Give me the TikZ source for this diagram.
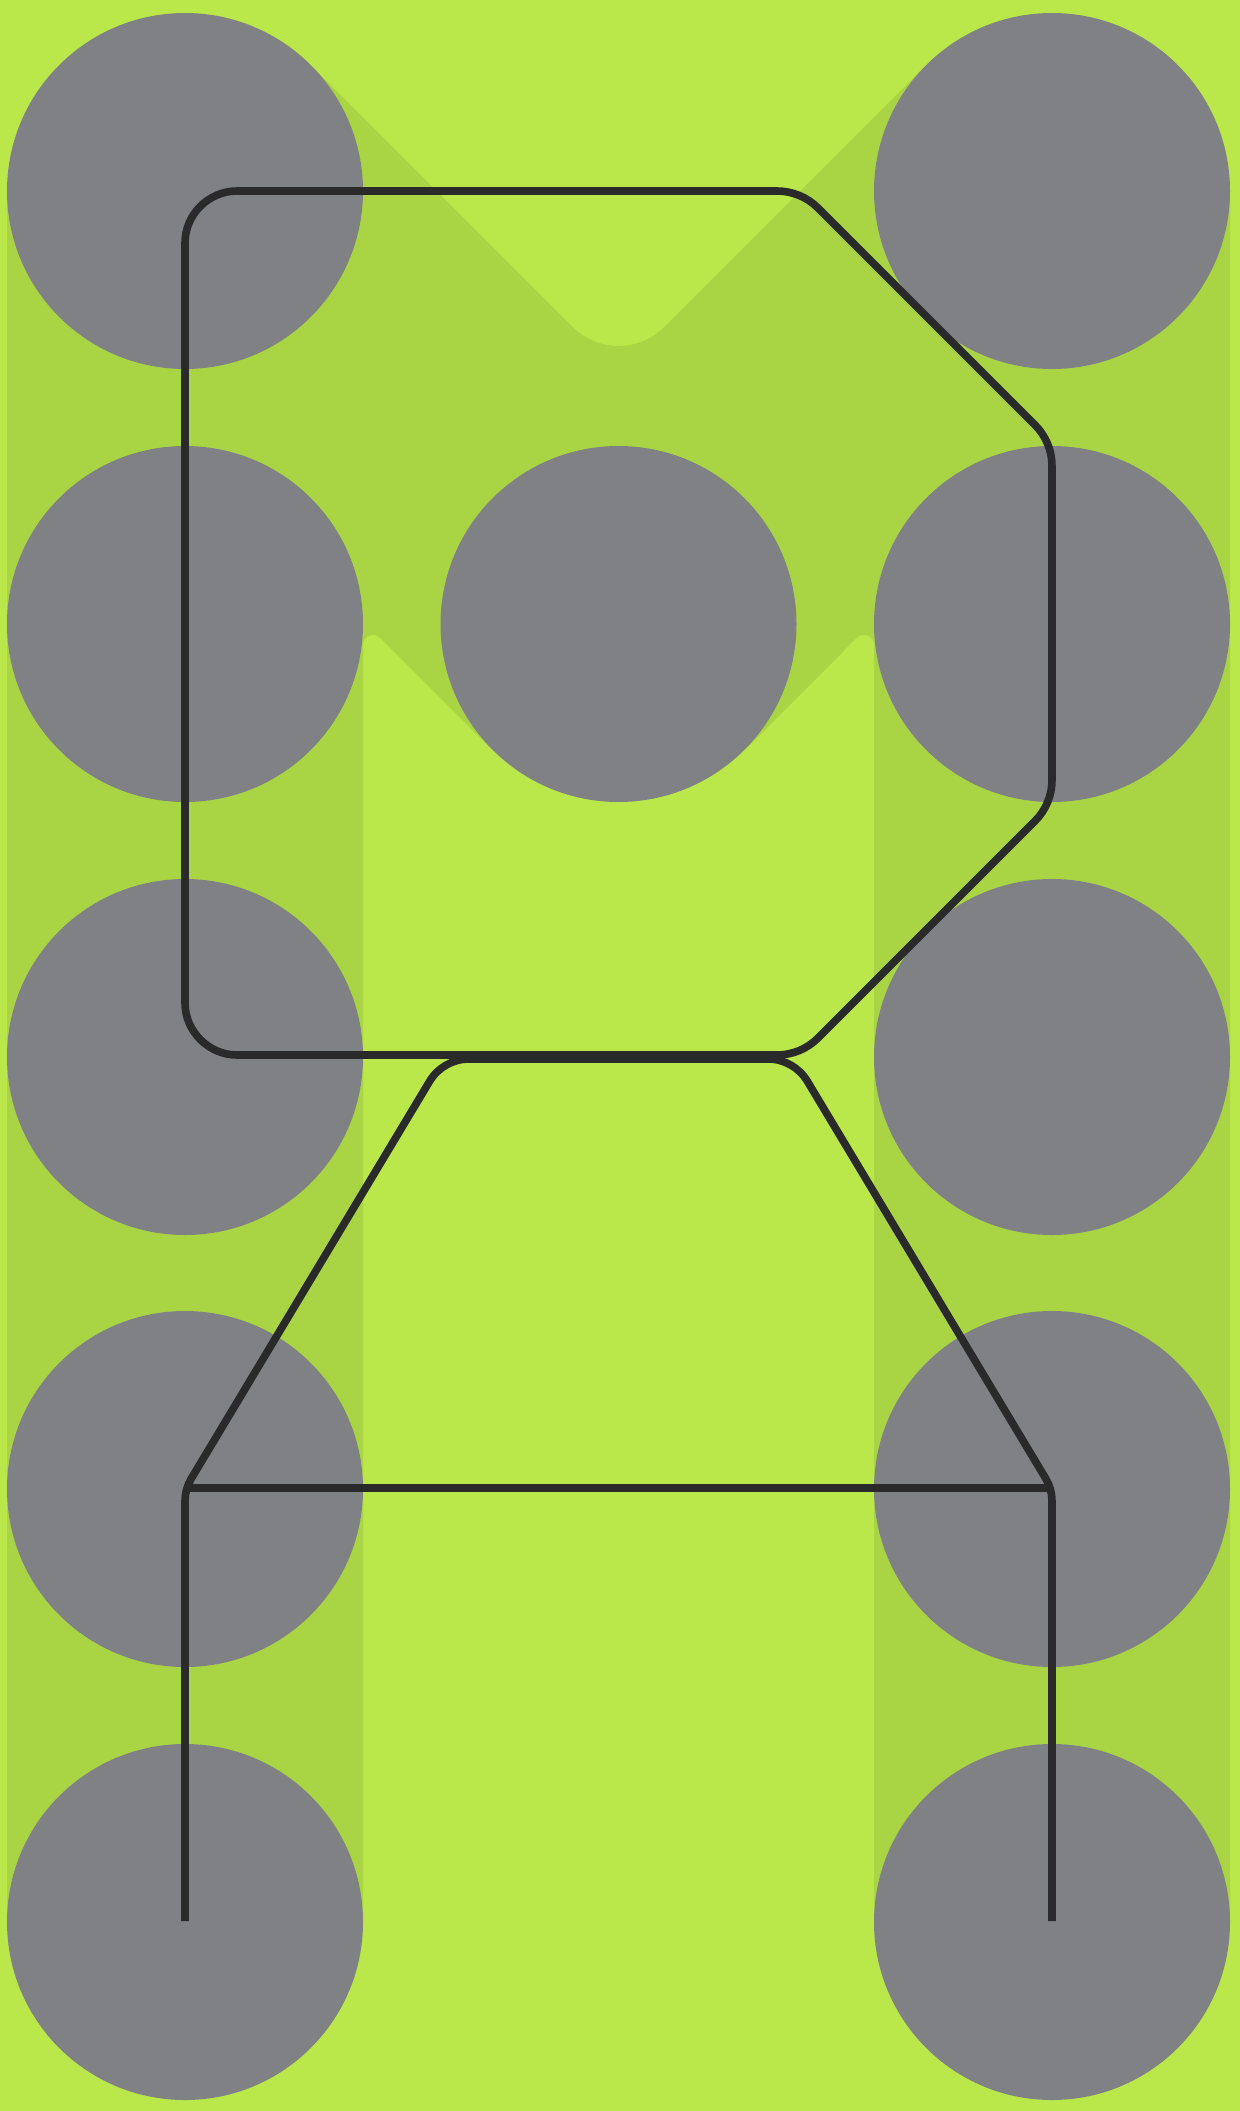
\documentclass[tikz,border=0pt]{standalone}
\definecolor{bgl}{HTML}{BAE84A}
\definecolor{bgd}{HTML}{A9D545}
\definecolor{dot}{HTML}{808185}
\definecolor{ink}{HTML}{2A2A2A}
\begin{document}
\begin{tikzpicture}[x=0.25mm,y=-0.25mm,
  inkline/.style={draw=ink,line width=1.9mm,line join=round},
  disc/.style={fill=dot}]
\fill[bgl] (0,0) rectangle (1240,2111);
\useasboundingbox (0,0) rectangle (1240,2111);
% darker band (chevron + two columns)
\fill[bgd] (7,1922) -- (7,191) -- (310.87,65.13) -- (572.75,327.02)
  .. controls (598.0,352.27) and (639.0,352.27) .. (664.25,327.02)
  -- (926.13,65.13) -- (1230,191) -- (1230,1922) -- (874,1922) -- (874,644.8)
  .. controls (874,635.9) and (863.25,631.48) .. (856.96,637.77)
  -- (744.37,750.37) -- (492.63,750.37) -- (380.04,637.77)
  .. controls (373.75,631.48) and (363,635.9) .. (363,644.8)
  -- (363,1922) -- cycle;
% discs
\foreach \x in {185,1052}{
  \foreach \y in {191,624,1057,1489,1922}{
    \fill[disc] (\x,\y) circle (178);
  }
}
\fill[disc] (618.5,624) circle (178);
% upper loop
\draw[inkline] (237,191) -- (777,191)
  .. controls (792.35,191) and (807.12,197.12) .. (817.97,207.97)
  -- (1035.03,425.03)
  .. controls (1045.88,435.88) and (1052,450.65) .. (1052,466)
  -- (1052,780)
  .. controls (1052,795.35) and (1045.88,810.12) .. (1035.03,820.97)
  -- (817.97,1038.03)
  .. controls (807.12,1048.88) and (792.35,1055) .. (777,1055)
  -- (237,1055)
  .. controls (208.7,1055) and (185,1031.3) .. (185,1003)
  -- (185,243)
  .. controls (185,214.3) and (208.7,191) .. (237,191) -- cycle;
% legs
\draw[inkline] (185,1921) -- (185,1501)
  .. controls (185,1493.14) and (187.14,1485.45) .. (191.18,1478.71)
  -- (429.62,1081.3)
  .. controls (437.93,1067.45) and (452.85,1059) .. (469,1059)
  -- (768,1059)
  .. controls (784.15,1059) and (799.07,1067.45) .. (807.38,1081.3)
  -- (1045.82,1478.71)
  .. controls (1049.86,1485.45) and (1052,1493.14) .. (1052,1501)
  -- (1052,1921);
% crossbar
\draw[inkline] (189,1488) -- (1048,1488);
\end{tikzpicture}
\end{document}
